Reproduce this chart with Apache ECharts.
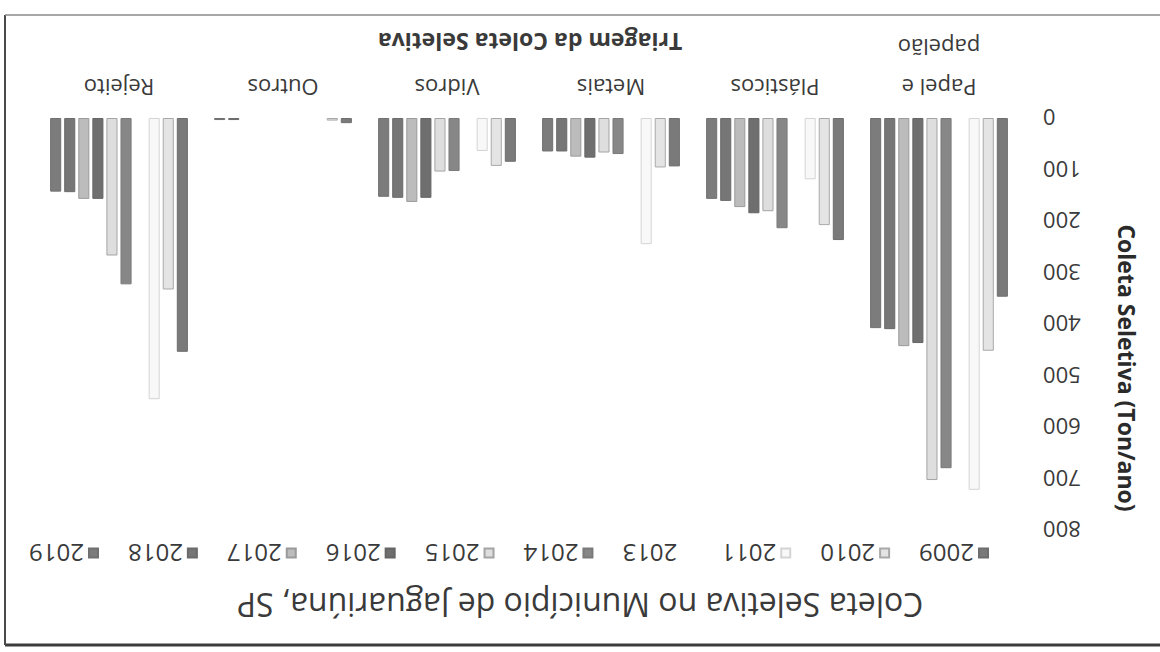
<!DOCTYPE html>
<html>
<head>
<meta charset="utf-8">
<script src="https://cdn.jsdelivr.net/npm/echarts@6/dist/echarts.min.js"></script>
<style>
  html, body { margin: 0; padding: 0; background: #fff; }
  #chart { width: 1160px; height: 652px; transform: rotate(180deg); transform-origin: 50% 50%; }
</style>
</head>
<body>
<div id="chart"></div>
<script>
// Waste sorting categories and collection years
const categories = ['Papel e\npapelão', 'Plásticos', 'Metais', 'Vidros', 'Outros', 'Rejeito'];
const years = ['2009', '2010', '2011', '2013', '2014', '2015', '2016', '2017', '2018', '2019'];

// Tonnes per year, one array per year, in category order (null = no bar)
const v2009 = [347, 237, 94, 85, 10, 454];
const v2010 = [452, 208, 96, 93, 5, 333];
const v2011 = [722, 119, 245, 64, null, 546];
const v2013 = [null, null, null, null, null, null];
const v2014 = [680, 214, 70, 103, null, 323];
const v2015 = [703, 181, 67, 104, null, 267];
const v2016 = [437, 185, 77, 155, null, 157];
const v2017 = [443, 173, 75, 163, null, 157];
const v2018 = [410, 161, 65, 155, 4, 144];
const v2019 = [408, 157, 65, 153, 4, 143];

const yTicks = { min: 0, max: 800, step: 100 };

const valuesByYear = [v2009, v2010, v2011, v2013, v2014, v2015, v2016, v2017, v2018, v2019];

// Grey shades for each year (fill, outline)
const fills = ['#7a7a7a', '#e4e4e4', '#f8f8f8', '#ffffff', '#878787', '#dedede', '#6f6f6f', '#bcbcbc', '#767676', '#7c7c7c'];
const borders = ['#6e6e6e', '#a9a9a9', '#d4d4d4', '#ffffff', '#7a7a7a', '#a4a4a4', '#656565', '#9a9a9a', '#6b6b6b', '#707070'];

const FONT = '"Open Sans", "Noto Sans", sans-serif';

const series = years.map((y, i) => ({
  name: y,
  type: 'bar',
  data: valuesByYear[i],
  barGap: '27%',
  barCategoryGap: '16%',
  itemStyle: { color: fills[i], borderColor: borders[i], borderWidth: 1 }
}));

const chart = echarts.init(document.getElementById('chart'), null, { renderer: 'svg' });
chart.setOption({
  animation: false,
  backgroundColor: '#ffffff',
  title: {
    text: 'Coleta Seletiva no Município de Jaguariúna, SP',
    left: 'center',
    top: 26,
    textStyle: { fontFamily: FONT, fontSize: 32, fontWeight: 'normal', color: '#3a3a3a' }
  },
  legend: {
    top: 82,
    left: 166,
    itemWidth: 9,
    itemHeight: 9,
    itemGap: 29,
    icon: 'rect',
    textStyle: { fontFamily: FONT, fontSize: 24, color: '#3a3a3a' },
    data: years
  },
  grid: { left: 139, right: 37, top: 122, bottom: 118, containLabel: false },
  xAxis: {
    type: 'category',
    data: categories,
    axisLine: { show: false },
    axisTick: { show: false },
    axisLabel: { fontFamily: FONT, fontSize: 22, color: '#3a3a3a', margin: 10, lineHeight: 40, interval: 0 }
  },
  yAxis: {
    type: 'value',
    min: yTicks.min,
    max: yTicks.max,
    interval: yTicks.step,
    splitLine: { show: false },
    axisLine: { show: false },
    axisTick: { show: false },
    axisLabel: { fontFamily: FONT, fontSize: 22, color: '#3a3a3a', margin: 22 }
  },
  graphic: [
    {
      type: 'text',
      x: 630, y: 610,
      style: {
        text: 'Triagem da Coleta Seletiva',
        fontFamily: FONT, fontSize: 23, fontWeight: 'bold', fill: '#3a3a3a',
        align: 'center', verticalAlign: 'middle'
      }
    },
    {
      type: 'text',
      x: 33, y: 284,
      rotation: Math.PI / 2,
      style: {
        text: 'Coleta Seletiva (Ton/ano)',
        fontFamily: FONT, fontSize: 23, fontWeight: 'bold', fill: '#2a2a2a',
        align: 'center', verticalAlign: 'middle'
      }
    },
    { type: 'line', shape: { x1: 0, y1: 7, x2: 1155, y2: 7 }, style: { stroke: '#3c3c3c', lineWidth: 3 } },
    { type: 'line', shape: { x1: 1155, y1: 7, x2: 1155, y2: 637 }, style: { stroke: '#4a4a4a', lineWidth: 2 } },
    { type: 'line', shape: { x1: 0, y1: 637, x2: 1155, y2: 637 }, style: { stroke: '#8a8a8a', lineWidth: 1.5 } }
  ],
  series: series
});
</script>
</body>
</html>
